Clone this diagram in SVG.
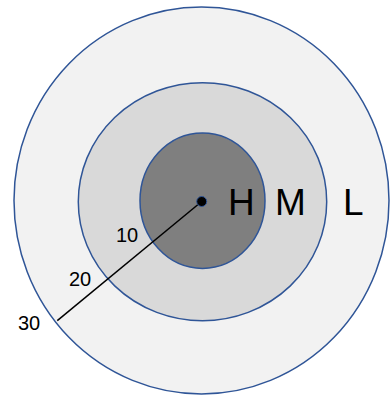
<svg xmlns="http://www.w3.org/2000/svg" width="390" height="397" viewBox="0 0 390 397">
<style>
.ring{stroke:#2f5597;stroke-width:1.5}
.big{font-family:"Liberation Sans",Arial,sans-serif;font-size:37px;fill:#000}
.num{font-family:"Liberation Sans",Arial,sans-serif;font-size:20px;fill:#000}
</style>
<rect width="390" height="397" fill="#ffffff"/>
<g id="ring-L"><ellipse class="ring" cx="201.5" cy="200.5" rx="187.5" ry="193.5" fill="#f2f2f2"/></g>
<g id="ring-M"><ellipse class="ring" cx="202.5" cy="201.7" rx="124.2" ry="119" fill="#d9d9d9"/></g>
<g id="ring-H"><ellipse class="ring" cx="202.5" cy="200.7" rx="62.5" ry="67.7" fill="#7f7f7f"/></g>
<g id="connectors">
<line x1="201.7" y1="201.5" x2="57.3" y2="320.7" stroke="#000" stroke-width="1.5"/>
</g>
<g id="center"><circle cx="201.7" cy="201.5" r="5" fill="#000" stroke="#2f5597" stroke-width="1"/></g>
<g id="labels">
<text class="big" x="228" y="215">H</text>
<text class="big" x="275" y="215">M</text>
<text class="big" x="343" y="215">L</text>
<text class="num" x="116" y="242">10</text>
<text class="num" x="69" y="286">20</text>
<text class="num" x="18" y="330">30</text>
</g>
</svg>
